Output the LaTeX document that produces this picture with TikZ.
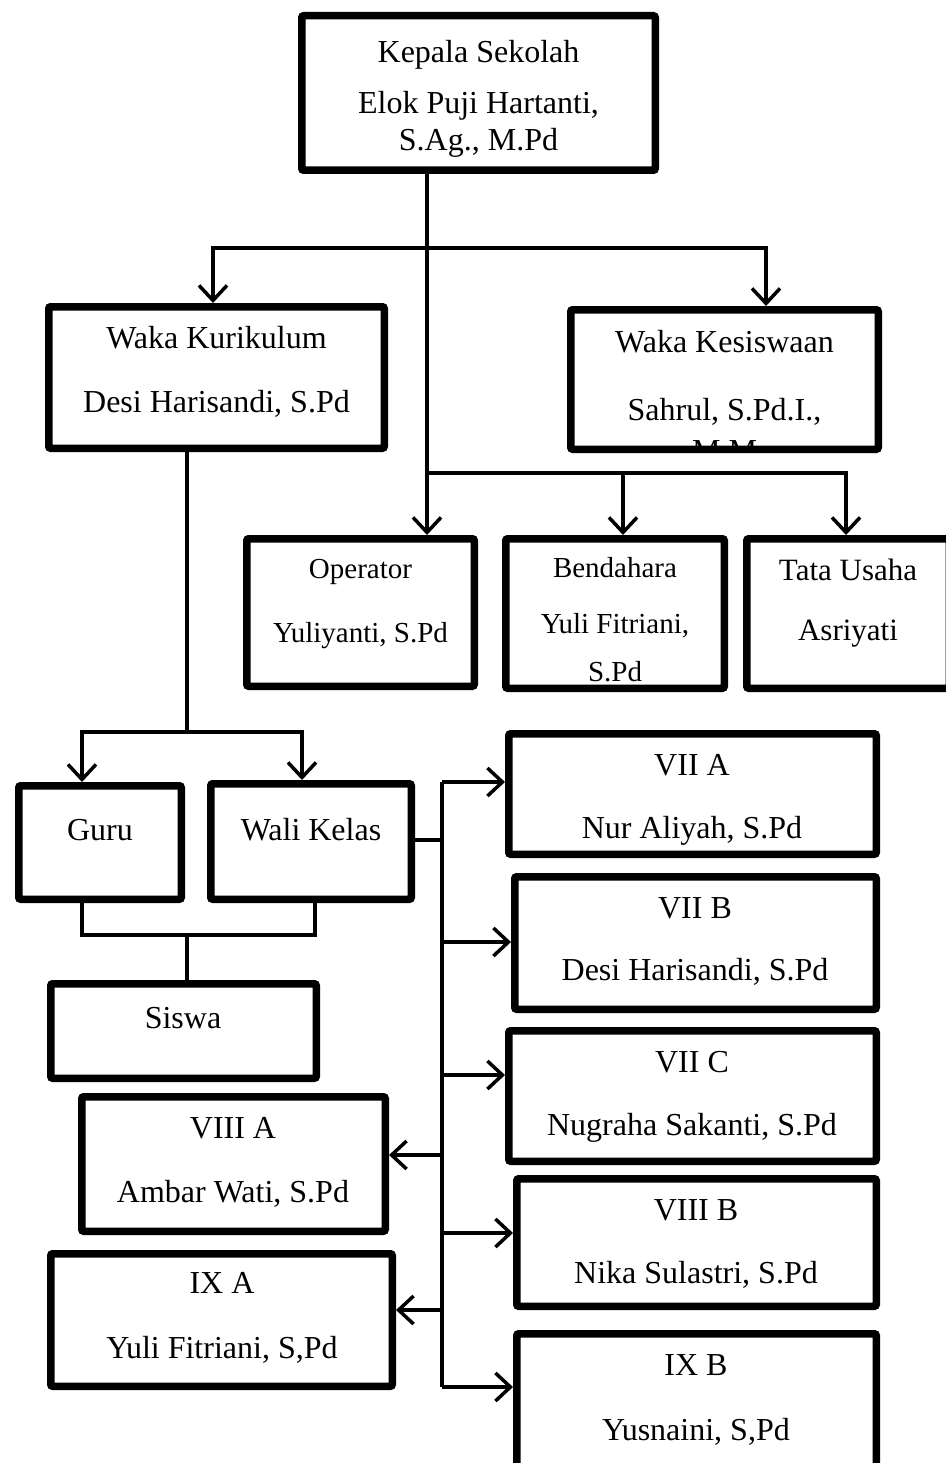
\documentclass[tikz,border=0pt]{standalone}
\usepackage{fontspec}
\setmainfont{Liberation Serif}
\usetikzlibrary{arrows.meta}
\newcommand\obox[5]{\node[box, minimum width={#4-#2-7.5}, minimum height={#5-#3-7.5}] (#1) at ({(#2+#4)/2},{(#3+#5)/2}) {};}
\begin{document}
\begin{tikzpicture}[x=1pt,y=-1pt,
  box/.style={draw=black, line width=7.5pt, fill=white, rounded corners=2pt, inner sep=0pt},
  txt/.style={anchor=base, inner sep=0pt, font=\fontsize{32}{38}\selectfont},
  smalltxt/.style={anchor=base, inner sep=0pt, font=\fontsize{29}{34}\selectfont},
  midtxt/.style={anchor=base, inner sep=0pt, font=\fontsize{31}{36}\selectfont},
  conn/.style={line width=3.5pt, line cap=butt, line join=miter},
  >={Straight Barb[length=15pt,width=28pt]}]
\fill[white] (0,0) rectangle (945,1463);
\useasboundingbox (0,0) rectangle (945,1463);

% boxes
\obox{kep}{298}{12}{659}{174}
\obox{wk}{45}{303}{388}{452}
\obox{wks}{567}{306}{882}{453}
\obox{op}{243}{535}{478}{690}
\obox{ben}{502}{535}{728}{692}
\obox{tu}{743}{535}{953}{692}
\obox{guru}{15}{782}{185}{903}
\obox{wali}{207}{780}{415}{903}
\obox{siswa}{47}{980}{320}{1082}
\obox{viiia}{78}{1093}{389}{1235}
\obox{ixa}{47}{1250}{396}{1390}
\obox{viia}{505}{730}{880}{858}
\obox{viib}{511}{873}{880}{1013}
\obox{viic}{505}{1027}{880}{1165}
\obox{viiib}{513}{1175}{880}{1310}
\obox{ixb}{513}{1330}{880}{1510}

% junction coordinates
\coordinate (kx) at (427,174);
\coordinate (xA) at (213,248);
\coordinate (xB) at (766,248);
\coordinate (j2) at (427,473);
\coordinate (xBe) at (623,473);
\coordinate (xT) at (846,473);
\coordinate (gj) at (187,732);
\coordinate (gL) at (82,732);
\coordinate (gR) at (302,732);
\coordinate (sL) at (82,935);
\coordinate (sR) at (315,935);
\coordinate (sM) at (187,935);
\coordinate (bus) at (442,840);
\coordinate (busT) at (442,782);
\coordinate (busB) at (442,1387);
\coordinate (yb) at (442,942);
\coordinate (yc) at (442,1075);
\coordinate (y8a) at (442,1155);
\coordinate (y8b) at (442,1233);
\coordinate (y9a) at (442,1310);

% connectors
\draw[conn,->] (kep.south -| kx) -- (op.north -| kx);
\draw[conn,<->] (wk.north -| xA) -- (xA) -- (xB) -- (wks.north -| xB);
\draw[conn,->] (j2) -- (xT) -- (tu.north -| xT);
\draw[conn,->] (xBe) -- (ben.north -| xBe);
\draw[conn] (wk.south -| gj) -- (gj);
\draw[conn,<->] (guru.north -| gL) -- (gL) -- (gR) -- (wali.north -| gR);
\draw[conn] (guru.south -| sL) -- (sL) -- (sR) -- (wali.south -| sR);
\draw[conn] (sM) -- (siswa.north -| sM);
\draw[conn] (wali.east |- bus) -- (bus);
\draw[conn] (busT) -- (busB);
\draw[conn,->] (busT) -- (viia.west |- busT);
\draw[conn,->] (yb) -- (viib.west |- yb);
\draw[conn,->] (yc) -- (viic.west |- yc);
\draw[conn,->] (y8b) -- (viiib.west |- y8b);
\draw[conn,->] (busB) -- (ixb.west |- busB);
\draw[conn,->] (y8a) -- (viiia.east |- y8a);
\draw[conn,->] (y9a) -- (ixa.east |- y9a);

% texts
\node[txt] (kep1) at (478.5,63) {Kepala Sekolah};
\node[txt] (kep2) at (478.5,114) {Elok Puji Hartanti,};
\node[txt] (kep3) at (478.5,151) {S.Ag., M.Pd};
\node[txt] (wk1) at (216.5,348) {Waka Kurikulum};
\node[txt] (wk2) at (216.5,412) {Desi Harisandi, S.Pd};
\node[txt] (wks1) at (724.5,352) {Waka Kesiswaan};
\node[txt] (wks2) at (724.5,420) {Sahrul, S.Pd.I.,};
\begin{scope}
  \clip ([shift={(7.5,-7.5)}]wks.south west) rectangle ([shift={(-7.5,7.5)}]wks.north east);
  \node[txt] (wks3) at (724.5,461) {M.M};
\end{scope}
\node[smalltxt] (op1) at (360.5,578) {Operator};
\node[smalltxt] (op2) at (360.5,642) {Yuliyanti, S.Pd};
\node[smalltxt] (ben1) at (615,577) {Bendahara};
\node[smalltxt] (ben2) at (615,633) {Yuli Fitriani,};
\begin{scope}
  \clip ([shift={(7.5,-7.5)}]ben.south west) rectangle ([shift={(-7.5,7.5)}]ben.north east);
  \node[smalltxt] (ben3) at (615,681) {S.Pd};
\end{scope}
\node[midtxt] (tu1) at (848,580) {Tata Usaha};
\node[midtxt] (tu2) at (848,640) {Asriyati};
\node[txt] (guru1) at (100,840) {Guru};
\node[txt] (wali1) at (311,840) {Wali Kelas};
\node[txt] (siswa1) at (183,1028) {Siswa};
\node[txt] (viiia1) at (233,1138) {VIII A};
\node[txt] (viiia2) at (233,1202) {Ambar Wati, S.Pd};
\node[txt] (ixa1) at (222,1293) {IX A};
\node[txt] (ixa2) at (222,1358) {Yuli Fitriani, S,Pd};
\node[txt] (viia1) at (692,775) {VII A};
\node[txt] (viia2) at (692,838) {Nur Aliyah, S.Pd};
\node[txt] (viib1) at (695,918) {VII B};
\node[txt] (viib2) at (695,980) {Desi Harisandi, S.Pd};
\node[txt] (viic1) at (692,1072) {VII C};
\node[txt] (viic2) at (692,1135) {Nugraha Sakanti, S.Pd};
\node[txt] (viiib1) at (696,1220) {VIII B};
\node[txt] (viiib2) at (696,1283) {Nika Sulastri, S.Pd};
\node[txt] (ixb1) at (696,1375) {IX B};
\node[txt] (ixb2) at (696,1440) {Yusnaini, S,Pd};
\end{tikzpicture}
\end{document}
